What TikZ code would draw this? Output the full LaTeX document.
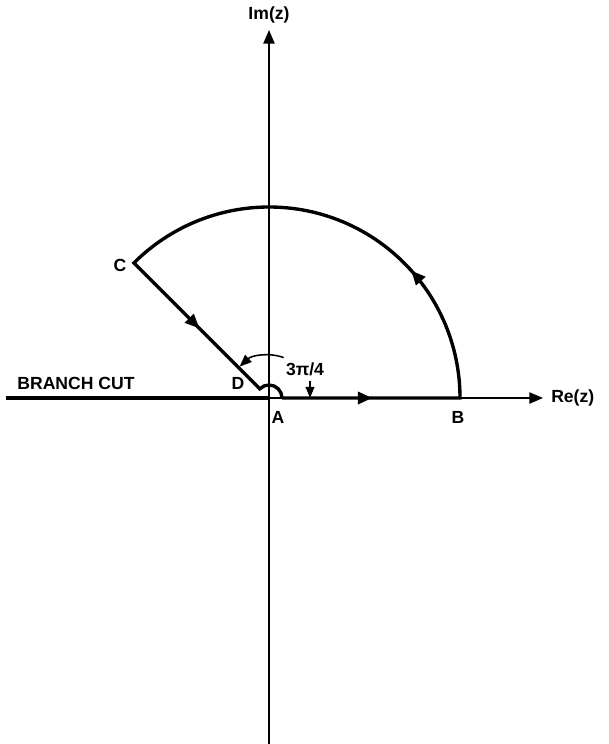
\documentclass[tikz,border=0pt]{standalone}
\usepackage{fontspec}
\setmainfont{Liberation Sans}
\usetikzlibrary{arrows.meta,decorations.markings}
\tikzset{
  every picture/.style={font=\fontsize{12.5}{15}\selectfont\bfseries},
  cont axis/.style={line width=1.1pt},
  cont tip/.style={-{Triangle[length=3.4mm,width=2.8mm]}},
  cont path/.style={line width=2.4pt, line join=miter},
  cont cut/.style={line width=3.2pt},
  cont marks/.style={postaction=decorate, decoration={markings,
    mark=at position 0.108 with {\arrow{Triangle[length=3.6mm,width=3mm]}},
    mark=at position 0.38 with {\arrow{Triangle[length=3.6mm,width=3mm]}},
    mark=at position 0.862 with {\arrow{Triangle[length=3.6mm,width=3mm]}}}}
}
\begin{document}
\begin{tikzpicture}[x=0.025cm,y=0.025cm]
  \useasboundingbox (-269,-346) rectangle (339,398);
  % axes
  \coordinate (origin) at (0,0);
  \coordinate (xleft) at (-263,0);
  \coordinate (xright) at (274,0);
  \coordinate (ybottom) at (0,-346);
  \coordinate (ytop) at (0,368);
  \draw[cont axis,cont tip] (xleft) -- (xright) node[right=2pt] (relabel) {Re(z)};
  \draw[cont axis,cont tip] (ybottom) -- (ytop) node[above=1pt] (imlabel) {Im(z)};
  \draw[cont cut] (xleft) -- (origin);
  \node (cutlabel) at (-193,15) {BRANCH CUT};
  % contour A -> B -> C -> D -> A
  \coordinate (ptA) at (13,0);
  \coordinate (ptB) at (191,0);
  \coordinate (ptC) at (135:191);
  \coordinate (ptD) at (135:13);
  \draw[cont path,cont marks] (ptA) -- (ptB) arc[start angle=0,end angle=135,radius=191]
    -- (ptD) arc[start angle=135,end angle=0,radius=13];
  \node (labA) at (9,-19) {A};
  \node (labB) at (189,-19) {B};
  \node (labC) at (-149,133) {C};
  \node (labD) at (-31,15) {D};
  % angle 3pi/4
  \draw[line width=1.1pt,-{Triangle[length=3mm,width=2.4mm]}] (70:43) arc[start angle=70,end angle=133,radius=43];
  \coordinate (angfoot) at (41,0);
  \draw[line width=1.1pt,-{Triangle[length=2.8mm,width=2.2mm]}] (41,17) -- (angfoot);
  \node (anglabel) at (36,29) {3π/4};
\end{tikzpicture}
\end{document}
